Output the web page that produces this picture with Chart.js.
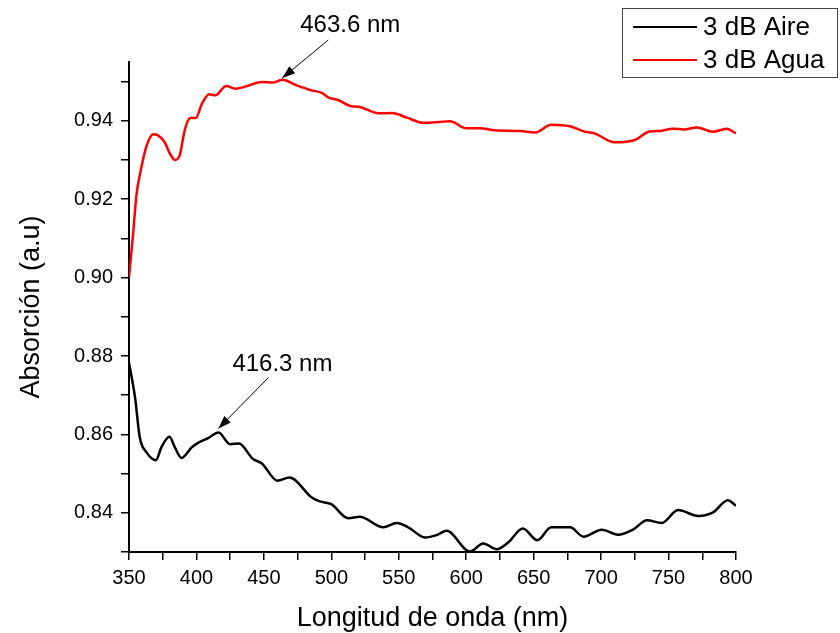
<!DOCTYPE html>
<html>
<head>
<meta charset="utf-8">
<script src="https://cdn.jsdelivr.net/npm/chart.js@4"></script>
<style>
  body { margin: 0; background: #fff; }
  canvas { display: block; }
</style>
</head>
<body>
<canvas id="grafico" width="840" height="633"></canvas>
<script>
const xAire = [350, 354.5, 358, 363, 370, 374, 380, 384, 389, 396.5, 401.5, 409, 416.3, 425, 431.5, 442, 448.5, 460, 469, 485.5, 491.5, 500, 512.5, 521, 538.5, 548.5, 557, 569.5, 578, 585.5, 602.8, 612.6, 622.6, 631, 642, 652.7, 663, 677, 687, 700.5, 712.5, 724, 734, 745, 757, 772, 783, 794, 800];
const yAire = [0.8783, 0.8694, 0.8592, 0.8554, 0.8534, 0.8567, 0.8594, 0.8567, 0.8540, 0.8567, 0.8579, 0.8591, 0.8605, 0.8575, 0.8577, 0.8537, 0.8526, 0.8482, 0.8490, 0.8439, 0.8429, 0.8422, 0.8386, 0.8390, 0.8363, 0.8374, 0.8363, 0.8337, 0.8343, 0.8354, 0.8301, 0.8322, 0.8307, 0.8324, 0.8360, 0.8330, 0.8363, 0.8363, 0.8339, 0.8357, 0.8344, 0.8358, 0.8381, 0.8374, 0.8407, 0.8392, 0.8401, 0.8432, 0.8418];

const xAgua = [350, 353, 355.5, 358.5, 363, 368, 371, 376.5, 380.5, 384, 387.5, 391.5, 395.5, 399.5, 404, 409.5, 414, 422, 429, 438, 448, 457, 463.6, 474, 485, 493, 498, 505, 515, 520, 535, 545, 556, 568, 580, 588, 600, 610, 621, 640, 651, 663, 677, 687, 695, 710, 725, 736, 744, 753, 761, 771, 783, 793, 800];
const yAgua = [0.900, 0.911, 0.921, 0.927, 0.9336, 0.9366, 0.9364, 0.9345, 0.9315, 0.9300, 0.9311, 0.9379, 0.9407, 0.9407, 0.9443, 0.9468, 0.9465, 0.9489, 0.9482, 0.9489, 0.9499, 0.9498, 0.9505, 0.9491, 0.9478, 0.9471, 0.9459, 0.9453, 0.9437, 0.9436, 0.9419, 0.9420, 0.9408, 0.9395, 0.9397, 0.9399, 0.9381, 0.9381, 0.9376, 0.9374, 0.9370, 0.9390, 0.9386, 0.9373, 0.9368, 0.9345, 0.9351, 0.9373, 0.9374, 0.9380, 0.9378, 0.9383, 0.9372, 0.9380, 0.9368];

const series = ['3 dB Aire', '3 dB Agua'];
const colores = ['#000000', '#ff0000'];

// picos marcados con flecha: [x, y, texto]
const picos = [
    [463.6, 0.9509, '463.6 nm'],
    [416.3, 0.8615, '416.3 nm']
];

const fuente = "'Liberation Sans', Arial, sans-serif";

function puntos(xs, ys) {
    return xs.map((x, i) => ({ x: x, y: ys[i] }));
}

function flecha(ctx, x0, y0, x1, y1) {
    ctx.beginPath();
    ctx.moveTo(x0, y0);
    ctx.lineTo(x1, y1);
    ctx.stroke();
    const ang = Math.atan2(y1 - y0, x1 - x0);
    const largo = 13, ancho = 4.5;
    ctx.beginPath();
    ctx.moveTo(x1, y1);
    ctx.lineTo(x1 - largo * Math.cos(ang) + ancho * Math.sin(ang), y1 - largo * Math.sin(ang) - ancho * Math.cos(ang));
    ctx.lineTo(x1 - largo * Math.cos(ang) - ancho * Math.sin(ang), y1 - largo * Math.sin(ang) + ancho * Math.cos(ang));
    ctx.closePath();
    ctx.fill();
}

const extras = {
    id: 'extras',
    afterDraw(chart) {
        const ctx = chart.ctx;
        const sx = chart.scales.x, sy = chart.scales.y;
        ctx.save();
        ctx.fillStyle = '#000';
        ctx.strokeStyle = '#000';
        ctx.lineWidth = 1;

        // anotaciones de los picos
        const desp = [[68, -53, 46, -38], [64, -64, 50, -51]];
        picos.forEach((p, i) => {
            const px = sx.getPixelForValue(p[0]);
            const py = sy.getPixelForValue(p[1]);
            flecha(ctx, px + desp[i][2], py + desp[i][3], px, py);
            ctx.font = '24px ' + fuente;
            ctx.textAlign = 'center';
            ctx.textBaseline = 'middle';
            ctx.fillText(p[2], px + desp[i][0], py + desp[i][1]);
        });

        // leyenda con recuadro
        ctx.strokeStyle = '#444';
        ctx.lineWidth = 1;
        ctx.strokeRect(622.5, 8.5, 215, 69);
        chart.data.datasets.forEach((ds, i) => {
            const y = 27 + i * 33;
            ctx.strokeStyle = ds.borderColor;
            ctx.lineWidth = 2;
            ctx.beginPath();
            ctx.moveTo(633, y);
            ctx.lineTo(697, y);
            ctx.stroke();
            ctx.fillStyle = '#000';
            ctx.font = '26px ' + fuente;
            ctx.textAlign = 'left';
            ctx.textBaseline = 'middle';
            ctx.fillText(ds.label, 703, y + 1);
        });
        ctx.restore();
    }
};

document.addEventListener('DOMContentLoaded', () => {
    const ctx = document.getElementById('grafico').getContext('2d');
    new Chart(ctx, {
        type: 'line',
        data: {
            datasets: [
                { label: series[0], data: puntos(xAire, yAire), borderColor: colores[0] },
                { label: series[1], data: puntos(xAgua, yAgua), borderColor: colores[1] }
            ].map(ds => ({
                ...ds,
                borderWidth: 2.5,
                pointRadius: 0,
                fill: false,
                cubicInterpolationMode: 'monotone'
            }))
        },
        options: {
            responsive: false,
            animation: false,
            layout: { padding: { top: 62, right: 104, left: 0, bottom: 0 } },
            plugins: {
                legend: { display: false },
                tooltip: { enabled: false }
            },
            scales: {
                x: {
                    type: 'linear',
                    min: 350,
                    max: 800,
                    afterFit: s => { s.height = 81; },
                    grid: { drawOnChartArea: false, tickLength: 8, color: '#000', lineWidth: 1.5 },
                    border: { color: '#000', width: 2 },
                    ticks: {
                        stepSize: 25,
                        autoSkip: false,
                        maxRotation: 0,
                        padding: 6,
                        color: '#000',
                        font: { size: 20, family: fuente },
                        callback: v => (v % 50 === 0 ? v : '')
                    },
                    title: {
                        display: true,
                        text: 'Longitud de onda (nm)',
                        color: '#000',
                        font: { size: 27, family: fuente, lineHeight: 1 },
                        padding: { top: 0, bottom: 1 }
                    }
                },
                y: {
                    min: 0.83,
                    max: 0.955,
                    afterFit: s => { s.width = 129; },
                    grid: { drawOnChartArea: false, tickLength: 8, color: '#000', lineWidth: 1.5 },
                    border: { color: '#000', width: 2 },
                    ticks: {
                        stepSize: 0.01,
                        includeBounds: false,
                        autoSkip: false,
                        padding: 8,
                        color: '#000',
                        font: { size: 20, family: fuente },
                        callback: v => (Math.round(v * 100) % 2 === 0 ? v.toFixed(2) : '')
                    },
                    title: {
                        display: true,
                        text: 'Absorción (a.u)',
                        color: '#000',
                        font: { size: 27, family: fuente, lineHeight: 1 },
                        padding: { top: 18, bottom: 0 }
                    }
                }
            }
        },
        plugins: [extras]
    });
});
</script>
</body>
</html>
